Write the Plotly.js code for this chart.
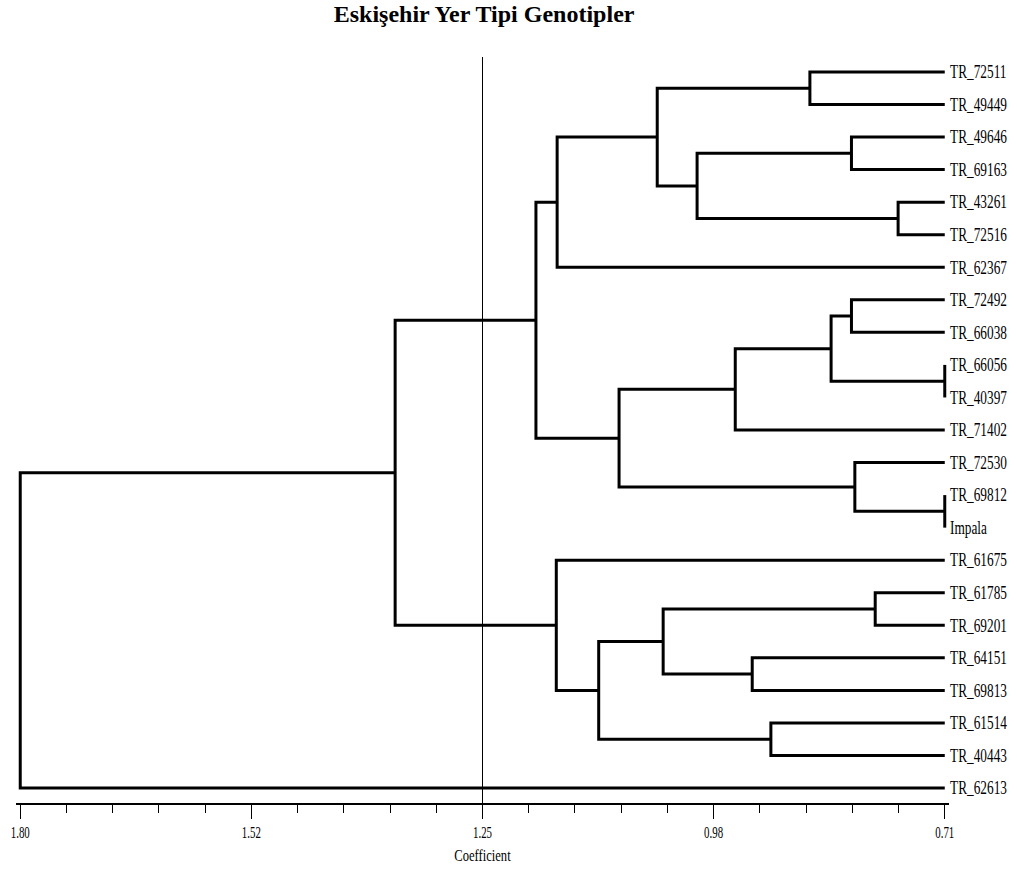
<!DOCTYPE html>
<html>
<head>
<meta charset="utf-8">
<script src="https://cdn.plot.ly/plotly-3.0.1.min.js"></script>
<style>html,body{margin:0;padding:0;background:#fff;}#chart{width:1017px;height:874px;}</style>
</head>
<body>
<div id="chart"></div>
<script>
// Leaves, top to bottom
const leaves = ["TR_72511","TR_49449","TR_49646","TR_69163","TR_43261","TR_72516","TR_62367",
  "TR_72492","TR_66038","TR_66056","TR_40397","TR_71402","TR_72530","TR_69812","Impala",
  "TR_61675","TR_61785","TR_69201","TR_64151","TR_69813","TR_61514","TR_40443","TR_62613"];

// Merges (cluster id, left child, right child, coefficient)
const mergeIds    = ["A","B","C","D","E","F","G","H","I","J","K","L","M","N","O","P","Q","R","S","T","U","V"];
const mergeLeft   = ["TR_72511","TR_49646","TR_43261","B","A","E","TR_72492","TR_66056","G","I","TR_69812","TR_72530","J","F","TR_61785","TR_64151","O","TR_61514","Q","TR_61675","N","U"];
const mergeRight  = ["TR_49449","TR_69163","TR_72516","C","D","TR_62367","TR_66038","TR_40397","H","TR_71402","Impala","K","L","M","TR_69201","TR_69813","P","TR_40443","R","S","T","TR_62613"];
const mergeHeight = [0.869,0.820,0.765,1.002,1.049,1.167,0.820,0.71,0.844,0.957,0.71,0.816,1.094,1.192,0.792,0.937,1.042,0.915,1.118,1.168,1.358,1.80];

// Axis ticks
const tickValues = [1.80,1.5275,1.255,0.9825,0.71];
const tickLabels = ["1.80","1.52","1.25","0.98","0.71"];
const cutoff = 1.255;

const pos = {};
leaves.forEach((l,i)=>{pos[l]={x:0.71,y:i};});
const xs=[], ys=[];
mergeIds.forEach((id,i)=>{
  const a=pos[mergeLeft[i]], b=pos[mergeRight[i]], h=mergeHeight[i];
  xs.push(a.x,h,h,b.x,null); ys.push(a.y,a.y,b.y,b.y,null);
  pos[id]={x:h,y:(a.y+b.y)/2};
});

const serif = "Liberation Serif, Times New Roman, serif";
const data = [{
  type:'scatter', mode:'lines', x:xs, y:ys,
  line:{color:'#000',width:3}, hoverinfo:'skip', showlegend:false
}];
const layout = {
  width:1017, height:874,
  margin:{l:16,r:68,t:57,b:71},
  paper_bgcolor:'#fff', plot_bgcolor:'#fff',
  title:{text:'<b>Eskişehir Yer Tipi Genotipler</b>', font:{family:serif,size:24,color:'#000'},
    x:0.476, xref:'container', xanchor:'center', y:0.984, yref:'container', yanchor:'middle'},
  xaxis:{range:[1.805,0.705], tickvals:tickValues, ticktext:tickLabels,
    showgrid:false, zeroline:false, showline:true, linecolor:'#000', linewidth:2,
    ticks:'outside', ticklen:14, tickcolor:'#000', tickwidth:1,
    minor:{tick0:0.71, dtick:0.0545, ticks:'outside', ticklen:8, tickcolor:'#000', showgrid:false},
    tickfont:{family:serif,size:16,color:'#000'},
    title:{text:'Coefficient', font:{family:serif,size:17,color:'#000'}, standoff:9}},
  yaxis:{range:[22.46,-0.46], side:'right', tickvals:leaves.map((l,i)=>i), ticktext:leaves,
    showgrid:false, zeroline:false, showline:false, ticks:'', ticklabelstandoff:0,
    tickfont:{family:serif,size:18,color:'#000'}},
  shapes:[{type:'line', xref:'x', yref:'paper', x0:cutoff, x1:cutoff, y0:0, y1:1,
    line:{color:'#000',width:1}}]
};

// The reference uses a narrow (condensed) serif face for labels: squeeze glyphs horizontally.
function condense(sel, s){
  document.querySelectorAll(sel).forEach(el=>{
    const x = parseFloat(el.getAttribute('x'))||0;
    const t = el.getAttribute('transform')||'';
    el.setAttribute('transform', t+' translate('+x+',0) scale('+s+',1) translate('+(-x)+',0)');
  });
}
Plotly.newPlot('chart', data, layout, {displayModeBar:false, staticPlot:true}).then(()=>{
  condense('#chart .ytick text', 0.74);
  condense('#chart .xtick text', 0.68);
  condense('#chart .g-xtitle text', 0.74);
});
</script>
</body>
</html>
